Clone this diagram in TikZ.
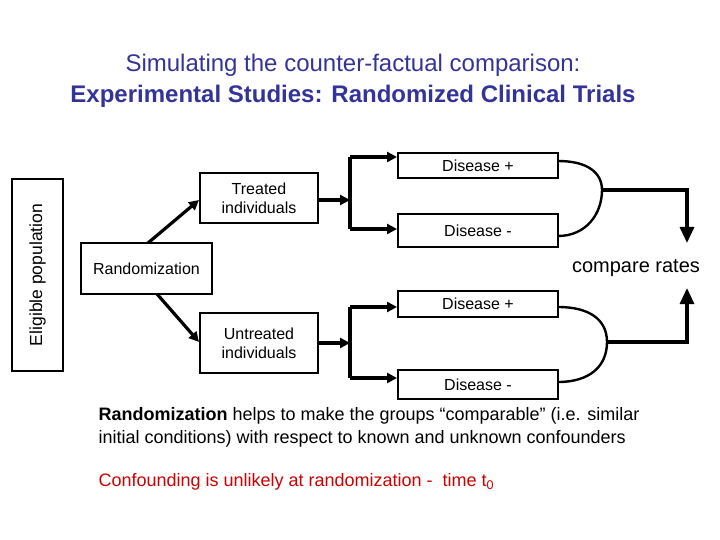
\documentclass[tikz,border=0pt]{standalone}
\usepackage{fontspec}
\setmainfont{Liberation Sans}
\usetikzlibrary{arrows.meta}
\definecolor{titleblue}{HTML}{333399}
\definecolor{alertred}{HTML}{CC0000}

\begin{document}
\begin{tikzpicture}[x=1pt,y=-1pt,
  box/.style={draw,line width=2pt,inner sep=1pt,align=center,font=\fontsize{16}{19}\selectfont},
  conn/.style={line width=3.2pt,-{Triangle[length=10pt,width=10pt]}},
  bigconn/.style={line width=3.2pt,-{Triangle[length=16pt,width=14pt]}},
  curve/.style={line width=2.4pt}]
  \useasboundingbox (0,0) rectangle (720,540);
  \node[text=titleblue,font=\fontsize{24}{28}\selectfont] (t1) at (353,65) {Simulating the counter-factual comparison:};
  \node[text=titleblue,font=\fontsize{24}{28}\selectfont\bfseries] (t2) at (353,96) {Experimental Studies: Randomized Clinical Trials};
  \node[box,rotate=90,minimum width=192pt,minimum height=51pt,font=\fontsize{17.5}{20}\selectfont] (elig) at (37.5,275) {Eligible population};
  \node[box,minimum width=131pt,minimum height=51pt] (rand) at (146.5,268.5) {Randomization};
  \node[box,minimum width=118pt,minimum height=50pt] (treat) at (259,198) {Treated\\individuals};
  \node[box,minimum width=118pt,minimum height=60pt] (untreat) at (259,343) {Untreated\\individuals};
  \node[box,minimum width=160pt,minimum height=25pt] (dp1) at (478,166) {Disease +};
  \node[box,minimum width=160pt,minimum height=33pt] (dm1) at (478,230.5) {Disease -};
  \node[box,minimum width=160pt,minimum height=26pt] (dp2) at (478,304) {Disease +};
  \node[box,minimum width=160pt,minimum height=29pt] (dm2) at (478,384.5) {Disease -};
  \node[font=\fontsize{20}{24}\selectfont] (cmp) at (636,268) {compare rates};
  \coordinate (br1) at (350,200); \coordinate (br1t) at (350,157); \coordinate (br1b) at (350,229);
  \coordinate (br2) at (350,343); \coordinate (br2t) at (350,307); \coordinate (br2b) at (350,378);
  \coordinate (ap1) at (602,190); \coordinate (ap2) at (607,342);
  \coordinate (tip1) at (687,243); \coordinate (tip2) at (687,288);
  \draw[conn] (148,243) -- (treat.west |- 0,200);
  \draw[conn] (157,294) -- (untreat.west |- 0,342);
  \draw[conn] (treat.east |- br1) -- (br1);
  \draw[conn] (untreat.east |- br2) -- (br2);
  \draw[conn,-] (br1t) -- (br1b);
  \draw[conn] (br1t) -- (dp1.west |- br1t);
  \draw[conn] (br1b) -- (dm1.west |- br1b);
  \draw[conn,-] (br2t) -- (br2b);
  \draw[conn] (br2t) -- (dp2.west |- br2t);
  \draw[conn] (br2b) -- (dm2.west |- br2b);
  \draw[curve] (558,161) .. controls (588,161) and (602,173) .. (ap1) .. controls (602,214) and (586,236) .. (558,236);
  \draw[curve] (558,307) .. controls (590,307) and (607,320) .. (ap2) .. controls (607,366) and (590,382) .. (558,382);
  \draw[bigconn] (ap1) -| (tip1);
  \draw[bigconn] (ap2) -| (tip2);
  \node[anchor=north west,align=left,font=\fontsize{18}{23}\selectfont] (note) at (95,404)
    {\textbf{Randomization} helps to make the groups “comparable” (i.e. similar\\initial conditions) with respect to known and unknown confounders};
  \node[anchor=west,text=alertred,font=\fontsize{18}{22}\selectfont] (conf) at (95,482)
    {Confounding is unlikely at randomization -\ \ time t\textsubscript{0}};
\end{tikzpicture}
\end{document}
